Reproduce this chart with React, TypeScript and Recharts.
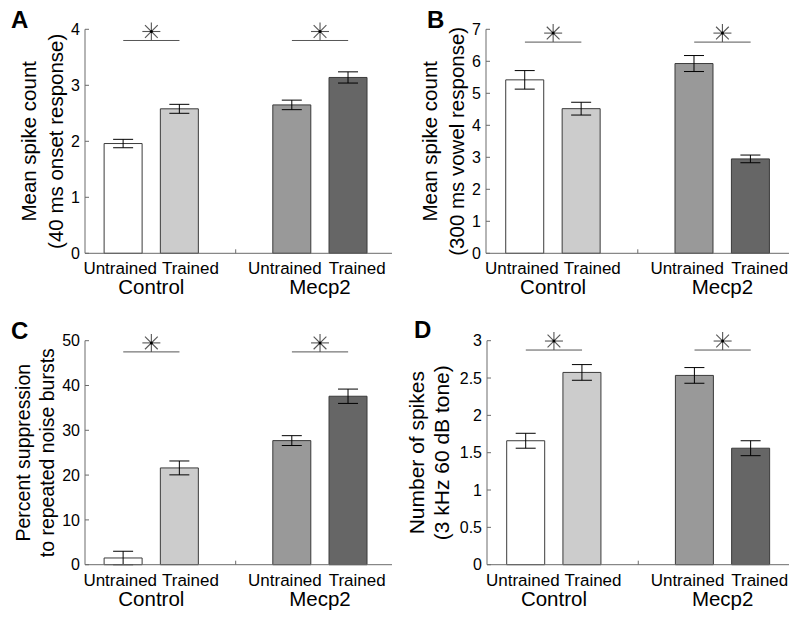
import { Bar, Cell, ComposedChart, ErrorBar, Label, ReferenceDot, ReferenceLine, XAxis, YAxis } from 'recharts';

const FONT = '"Liberation Sans", Arial, Helvetica, sans-serif';
const AXIS = '#6a6a6a';

// bar layout: two groups of two bars, empty slot in between
const barPositions = [1, 2, 4, 5];
const conditionLabels = ['Untrained', 'Trained', 'Untrained', 'Trained'];
const groupLabels = ['Control', 'Mecp2'];
const groupPositions = [1.5, 4.5];
const dividerPosition = 3;
const barFills = ['#ffffff', '#cccccc', '#999999', '#666666'];
const sigPairs = [[1, 2], [4, 5]];

// A - onset response
const onsetMeans = [1.96, 2.58, 2.65, 3.14];
const onsetErrors = [0.075, 0.08, 0.085, 0.1];
const onsetTicks = [0, 1, 2, 3, 4];
const onsetSig = 3.8;

// B - vowel response
const vowelMeans = [5.42, 4.52, 5.93, 2.95];
const vowelErrors = [0.29, 0.2, 0.25, 0.12];
const vowelTicks = [0, 1, 2, 3, 4, 5, 6, 7];
const vowelSig = 6.6;

// C - noise burst suppression
const suppressionMeans = [1.5, 21.6, 27.7, 37.6];
const suppressionErrors = [1.5, 1.55, 1.1, 1.6];
const suppressionTicks = [0, 10, 20, 30, 40, 50];
const suppressionSig = 47.5;

// D - tone response
const toneMeans = [1.66, 2.575, 2.535, 1.56];
const toneErrors = [0.1, 0.105, 0.105, 0.1];
const toneTicks = [0, 0.5, 1, 1.5, 2, 2.5, 3];
const toneSig = 2.875;

const labelNudge: Record<number, number> = { 1: -3, 2: 11, 4: -7, 5: 9 };

function renderXTick({ x, y, payload }: any) {
  const v = payload.value;
  const i = barPositions.indexOf(v);
  if (i >= 0) {
    return (
      <text x={x + labelNudge[v]} y={y + 21} textAnchor="middle" fontSize={17} fontFamily={FONT} fill="#000">
        {conditionLabels[i]}
      </text>
    );
  }
  const g = groupPositions.indexOf(v);
  if (g >= 0) {
    return (
      <text x={x} y={y + 41} textAnchor="middle" fontSize={20.5} fontFamily={FONT} fill="#000">
        {groupLabels[g]}
      </text>
    );
  }
  return <line x1={x} x2={x} y1={y} y2={y - 4} stroke={AXIS} />;
}

function renderYTick({ x, y, payload }: any) {
  return (
    <g>
      <line x1={x} x2={x + 4} y1={y} y2={y} stroke={AXIS} />
      <text x={x - 5} y={y} dy="0.36em" textAnchor="end" fontSize={16} fontFamily={FONT} fill="#000">
        {payload.value}
      </text>
    </g>
  );
}

function Asterisk({ cx, cy }: any) {
  const r = 9;
  const c = cy - 9;
  const d = r * 0.707;
  return (
    <g stroke="#555" strokeWidth={1.1}>
      <line x1={cx} x2={cx} y1={c - r} y2={c + r} />
      <line x1={cx - r} x2={cx + r} y1={c} y2={c} />
      <line x1={cx - d} x2={cx + d} y1={c - d} y2={c + d} />
      <line x1={cx - d} x2={cx + d} y1={c + d} y2={c - d} />
      <circle cx={cx} cy={c} r={1.5} fill="#000" stroke="none" />
    </g>
  );
}

type PanelProps = {
  left: number;
  top: number;
  marginTop: number;
  axisWidth: number;
  plotWidth: number;
  domainX: [number, number];
  means: number[];
  errors: number[];
  ticks: number[];
  sigY: number;
  yLabel: [string, string];
  labelOffsets: [number, number];
  labelSize: number;
};

function Panel(p: PanelProps) {
  const rows = barPositions.map((pos, i) => ({ pos, mean: p.means[i], err: p.errors[i] }));
  const xTicks = [...barPositions, ...groupPositions, dividerPosition].sort((a, b) => a - b);
  const yMax = p.ticks[p.ticks.length - 1];
  return (
    <div style={{ position: 'absolute', left: p.left, top: p.top }}>
      <ComposedChart
        width={400}
        height={p.marginTop + 224 + 56}
        data={rows}
        margin={{ top: p.marginTop, right: 400 - p.axisWidth - p.plotWidth, left: 0, bottom: 0 }}
      >
        <XAxis
          type="number"
          dataKey="pos"
          domain={p.domainX}
          ticks={xTicks}
          interval={0}
          allowDataOverflow
          tickLine={false}
          tickSize={0}
          tickMargin={0}
          height={56}
          axisLine={{ stroke: AXIS }}
          tick={renderXTick}
        />
        <YAxis
          type="number"
          domain={[0, yMax]}
          ticks={p.ticks}
          interval={0}
          width={p.axisWidth}
          tickLine={false}
          tickSize={0}
          tickMargin={0}
          axisLine={{ stroke: AXIS }}
          tick={renderYTick}
        >
          <Label
            content={({ viewBox }: any) => {
              const ax = viewBox.x + viewBox.width;
              const cy = viewBox.y + viewBox.height / 2;
              return (
                <g>
                  {p.yLabel.map((t, k) => {
                    const bx = ax + p.labelOffsets[k];
                    return (
                      <text
                        key={k}
                        x={bx}
                        y={cy}
                        transform={`rotate(-90 ${bx} ${cy})`}
                        textAnchor="middle"
                        fontSize={p.labelSize}
                        fontFamily={FONT}
                        fill="#000"
                      >
                        {t}
                      </text>
                    );
                  })}
                </g>
              );
            }}
          />
        </YAxis>
        <Bar dataKey="mean" barSize={38} stroke="#3a3a3a" strokeWidth={1} isAnimationActive={false}>
          {rows.map((r, i) => (
            <Cell key={r.pos} fill={barFills[i]} />
          ))}
          <ErrorBar dataKey="err" width={10} stroke="#000" strokeWidth={1} direction="y" isAnimationActive={false} />
        </Bar>
        {sigPairs.map(([a, b], k) => (
          <ReferenceLine
            key={'l' + k}
            segment={[{ x: a, y: p.sigY }, { x: b, y: p.sigY }]}
            stroke="#555"
            strokeWidth={1}
          />
        ))}
        {sigPairs.map(([a, b], k) => (
          <ReferenceDot key={'d' + k} x={(a + b) / 2} y={p.sigY} shape={Asterisk} />
        ))}
      </ComposedChart>
    </div>
  );
}

const letters = [
  { t: 'A', x: 11, y: 27.5 },
  { t: 'B', x: 427, y: 27.5 },
  { t: 'C', x: 11, y: 338.5 },
  { t: 'D', x: 414, y: 337.5 },
];

export default function App() {
  return (
    <div style={{ position: 'absolute', left: 0, top: 0, width: 800, height: 619, background: '#fff' }}>
      <Panel
        left={0}
        top={0}
        marginTop={29.3}
        axisWidth={85}
        plotWidth={307}
        domainX={[0.32, 5.78]}
        means={onsetMeans}
        errors={onsetErrors}
        ticks={onsetTicks}
        sigY={onsetSig}
        yLabel={['Mean spike count', '(40 ms onset response)']}
        labelOffsets={[-48.5, -22]}
        labelSize={20.5}
      />
      <Panel
        left={400}
        top={0}
        marginTop={29.3}
        axisWidth={86}
        plotWidth={303}
        domainX={[0.31, 5.68]}
        means={vowelMeans}
        errors={vowelErrors}
        ticks={vowelTicks}
        sigY={vowelSig}
        yLabel={['Mean spike count', '(300 ms vowel response)']}
        labelOffsets={[-49, -22]}
        labelSize={20.5}
      />
      <Panel
        left={0}
        top={310}
        marginTop={30.7}
        axisWidth={85}
        plotWidth={307}
        domainX={[0.32, 5.78]}
        means={suppressionMeans}
        errors={suppressionErrors}
        ticks={suppressionTicks}
        sigY={suppressionSig}
        yLabel={['Percent suppression', 'to repeated noise bursts']}
        labelOffsets={[-55, -31]}
        labelSize={19.5}
      />
      <Panel
        left={400}
        top={310}
        marginTop={30.7}
        axisWidth={87}
        plotWidth={302}
        domainX={[0.31, 5.68]}
        means={toneMeans}
        errors={toneErrors}
        ticks={toneTicks}
        sigY={toneSig}
        yLabel={['Number of spikes', '(3 kHz 60 dB tone)']}
        labelOffsets={[-63, -38]}
        labelSize={21}
      />
      <svg width={800} height={619} style={{ position: 'absolute', left: 0, top: 0, pointerEvents: 'none' }}>
        {letters.map((l) => (
          <text key={l.t} x={l.x} y={l.y} fontSize={24} fontWeight="bold" fontFamily={FONT} fill="#000">
            {l.t}
          </text>
        ))}
      </svg>
    </div>
  );
}
